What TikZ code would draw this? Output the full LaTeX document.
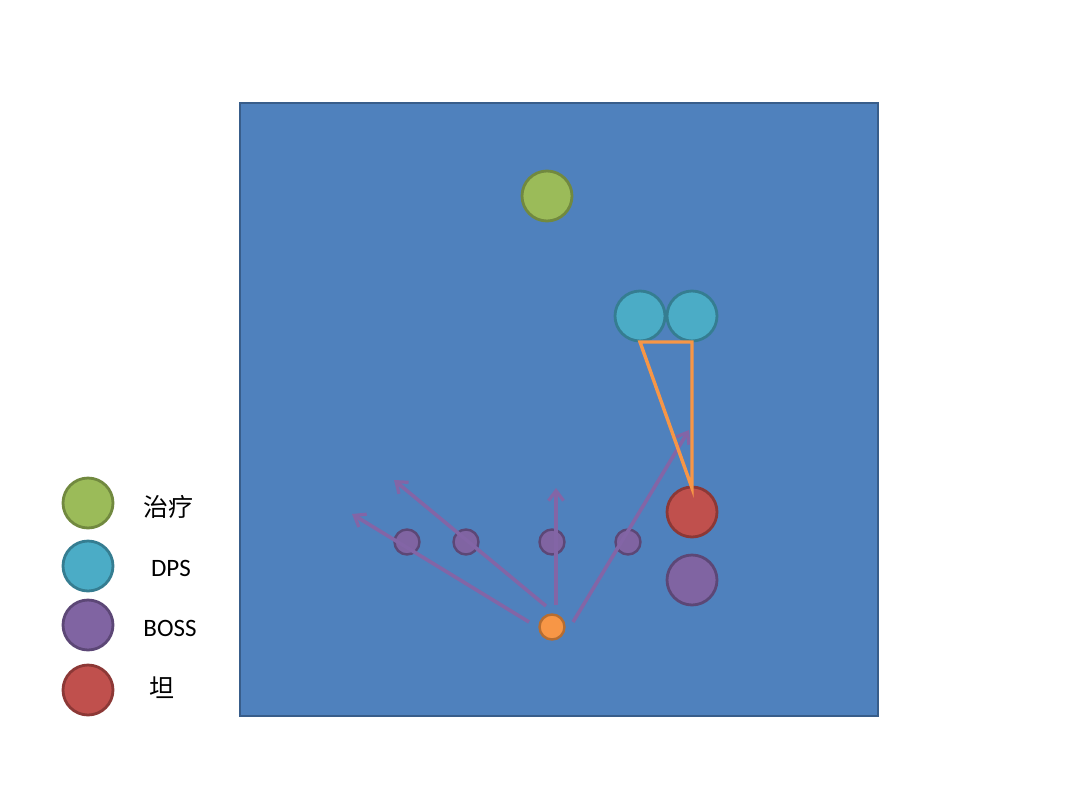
\documentclass[tikz,border=0pt]{standalone}
\usepackage{fontspec}
\setmainfont{Carlito}
\newfontfamily\cjk{Noto Sans CJK SC}
\usetikzlibrary{arrows.meta}
\definecolor{bgblue}{HTML}{4F81BD}
\definecolor{bgborder}{HTML}{385D8A}
\definecolor{heal}{HTML}{9BBB59}
\definecolor{healb}{HTML}{71893F}
\definecolor{dps}{HTML}{4BACC6}
\definecolor{dpsb}{HTML}{357D91}
\definecolor{boss}{HTML}{8064A2}
\definecolor{bossb}{HTML}{5C4776}
\definecolor{tank}{HTML}{C0504D}
\definecolor{tankb}{HTML}{8C3836}
\definecolor{orng}{HTML}{F79646}
\definecolor{orngb}{HTML}{B66D31}
\definecolor{arr}{HTML}{8365A6}
\tikzset{
  token/.style={circle, inner sep=0pt, minimum size=#1, line width=2.8pt},
  healer/.style={token=50pt, fill=heal, draw=healb},
  dpsc/.style={token=50pt, fill=dps, draw=dpsb},
  bossc/.style={token=50pt, fill=boss, draw=bossb},
  tankc/.style={token=50pt, fill=tank, draw=tankb},
  minion/.style={token=25pt, fill=boss, draw=bossb, line width=2.4pt},
  player/.style={token=25pt, fill=orng, draw=orngb, line width=2.4pt},
  moveline/.style={draw=arr, line width=3.6pt, -{Straight Barb[length=10pt,width=15pt,line width=3.2pt]}},
  tri/.style={draw=orng, line width=3.4pt},
  lbl/.style={font=\fontsize{25}{27}\selectfont, anchor=center},
}
\begin{document}
\begin{tikzpicture}[x=1pt,y=-1pt]
\useasboundingbox (0,0) rectangle (1070,800);
\draw[fill=bgblue, draw=bgborder, line width=2.4pt] (240,103) rectangle (878,716);

\node[healer] (h) at (547,196) {};
\node[dpsc] (d1) at (640,316) {};
\node[dpsc] (d2) at (692,316) {};
\node[tankc] (t) at (692,512) {};
\node[bossc] (b) at (692,580) {};

\node[minion] (m1) at (407,542) {};
\node[minion] (m2) at (466,542) {};
\node[minion] (m3) at (552,542) {};
\node[minion] (m4) at (628,542) {};

\node[player] (p) at (552,627) {};

\coordinate (s1) at (529,622); \coordinate (e1) at (352,514);
\coordinate (s2) at (546,606); \coordinate (e2) at (394,480);
\coordinate (s3) at (556,605); \coordinate (e3) at (556,488);
\coordinate (s4) at (573,622); \coordinate (e4) at (689,430);
\draw[moveline] (s1) -- (e1);
\draw[moveline] (s2) -- (e2);
\draw[moveline] (s3) -- (e3);
\draw[moveline] (s4) -- (e4);

\coordinate (c1) at (640,342);
\coordinate (c2) at (692,342);
\coordinate (c3) at (692,488);
\draw[tri, line join=miter] (c1) -- (c2) -- (c3) -- cycle;

\node[healer] (lh) at (88,503) {};
\node[dpsc] (ld) at (88,566) {};
\node[bossc] (lb) at (88,625) {};
\node[tankc] (lt) at (88,690) {};
\node[lbl] (th) at (168,507) {\cjk 治疗};
\node[lbl] (td) at (171,568) {DPS};
\node[lbl] (tb) at (170,628) {BOSS};
\node[lbl] (tt) at (162,688) {\cjk 坦};
\end{tikzpicture}
\end{document}
